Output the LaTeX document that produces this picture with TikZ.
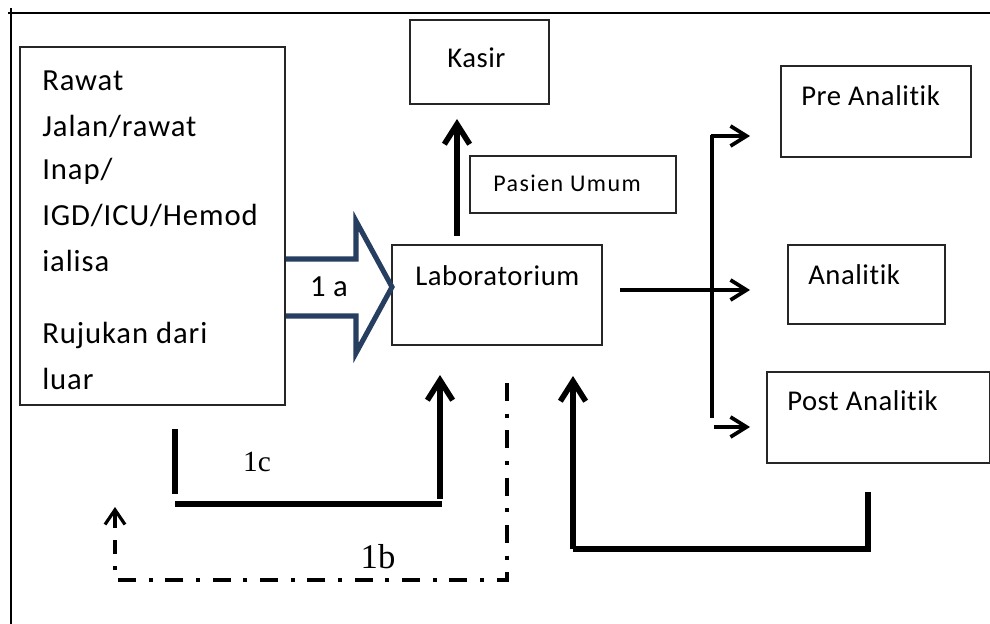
\documentclass[tikz,border=0pt]{standalone}
\usepackage{fontspec}
\setmainfont{Carlito}[Ligatures=NoCommon]
\newfontfamily\leftfont{Carlito}[Ligatures=NoCommon,LetterSpace=3]
\newfontfamily\midfont{Carlito}[Ligatures=NoCommon,LetterSpace=2]
\newfontfamily\smallfont{Carlito}[Ligatures=NoCommon,LetterSpace=6]
\newfontfamily\serifone{Liberation Serif}
\usetikzlibrary{arrows.meta,fit}
\definecolor{arrowblue}{RGB}{38,62,96}
\tikzset{
  box/.style={draw=black!85,line width=1.3pt,inner sep=0pt,fill=none},
  lefttxt/.style={inner sep=0pt,font=\leftfont\fontsize{23}{27}\selectfont,anchor=west},
  lbl/.style={inner sep=0pt,font=\midfont\fontsize{21.5}{25}\selectfont,anchor=west},
  small/.style={inner sep=0pt,font=\smallfont\fontsize{18}{21}\selectfont,anchor=west},
  thickarr/.style={line width=4.6pt,-{Straight Barb[length=15pt,width=19pt,line width=4.2pt]}},
  thickline/.style={line width=4.6pt},
  medarr/.style={line width=3pt,-{Straight Barb[length=12pt,width=15pt,line width=2.8pt]}},
  dashdot/.style={line width=3pt,dash pattern=on 13.5pt off 9.5pt on 3pt off 9.5pt}
}
\begin{document}
\begin{tikzpicture}[x=0.75pt,y=-0.75pt]
\useasboundingbox (0,0) rectangle (990,624);
% frame lines
\draw[line width=1.6pt] (8,13) -- (990,13);
\draw[line width=1.6pt] (11,8) -- (11,624);
% boxes
\node[box,fit={(20,47) (285,405)}] (src) {};
\node[box,fit={(410,20) (549,104)}] (kasir) {};
\node[box,fit={(470,156) (676,213)}] (umum) {};
\node[box,fit={(392,245) (602,345)}] (lab) {};
\node[box,fit={(781,66) (971,157)}] (pre) {};
\node[box,fit={(788,245) (945,324)}] (ana) {};
\node[box,fit={(767,372) (990,463)}] (post) {};
% texts
\node[lefttxt] (t1) at (42,81) {Rawat};
\node[lefttxt] (t2) at (42,127) {Jalan/rawat};
\node[lefttxt] (t3) at (42,171) {Inap/};
\node[lefttxt] (t4) at (42,216) {IGD/ICU/Hemod};
\node[lefttxt] (t5) at (42,261) {ialisa};
\node[lefttxt] (t6) at (42,335) {Rujukan dari};
\node[lefttxt] (t7) at (42,379) {luar};
\node[lbl] (tk) at (447,58) {Kasir};
\node[small] (tu) at (493,183) {Pasien Umum};
\node[lbl] (tl) at (415,276) {Laboratorium};
\node[lbl] (tp) at (801,96) {Pre Analitik};
\node[lbl] (ta) at (808,275) {Analitik};
\node[lbl] (tpo) at (787,401) {Post Analitik};
% 1a hollow arrow
\draw[arrowblue,line width=3.8pt,line join=miter]
  (286,259) -- (356,259) -- (356,221) -- (392,287) -- (356,353) -- (356,316) -- (286,316);
\node[inner sep=0pt,font=\midfont\fontsize{23}{27}\selectfont] (l1a) at (329,287) {1 a};
% lab to kasir
\coordinate (kup) at (457,236);
\coordinate (kend) at (457,119);
\draw[thickarr] (kup) -- (kend);
% lab to right
\coordinate (lr0) at (620,290);
\coordinate (lr1) at (750,290);
\draw[medarr] (lr0) -- (lr1);
\coordinate (vtop) at (712,135);
\coordinate (vbot) at (712,418);
\draw[line width=3pt] (vtop) -- (vbot);
\coordinate (pre0) at (711,136);
\coordinate (pre1) at (750,136);
\draw[medarr] (pre0) -- (pre1);
\coordinate (post0) at (714,427);
\coordinate (post1) at (750,427);
\draw[medarr] (post0) -- (post1);
% 1c
\coordinate (c0) at (175,429);
\coordinate (c1) at (175,494);
\coordinate (c2) at (175,504);
\coordinate (c3) at (442,504);
\coordinate (c4) at (440,375);
\draw[thickline] (c0) -- (c1);
\draw[thickline] (c2) -- (c3);
\draw[thickarr] (440,499) -- (c4);
\node[inner sep=0pt,font=\serifone\fontsize{22}{24}\selectfont] (l1c) at (257,462) {1c};
% 1b
\coordinate (b0) at (507,383);
\coordinate (b1) at (507,580);
\coordinate (b2) at (115,580);
\coordinate (b3) at (115,507);
\draw[dashdot] (b0) -- (b1) -- (b2) -- (115,540);
\draw[line width=2.4pt,-{Straight Barb[length=11pt,width=15pt,line width=2.4pt]}] (115,528) -- (b3);
\node[inner sep=0pt,font=\serifone\fontsize{26}{28}\selectfont] (l1b) at (378,557) {1b};
% post back to lab
\coordinate (p0) at (868,492);
\coordinate (p1) at (868,549);
\coordinate (p2) at (573,549);
\coordinate (p3) at (573,376);
\draw[thickline] (p0) -- (p1) -- (p2);
\draw[thickarr] (573,549) -- (p3);
\end{tikzpicture}
\end{document}
